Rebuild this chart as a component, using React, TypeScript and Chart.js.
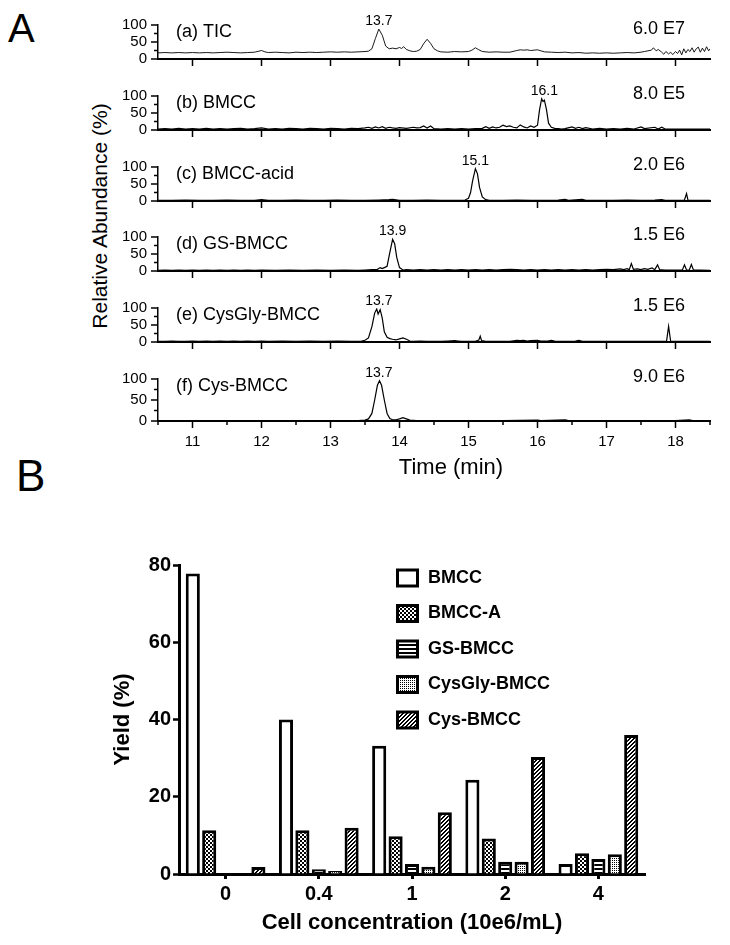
import React, { useEffect, useRef } from 'react';
import { Chart, registerables } from 'chart.js';

Chart.register(...registerables);

const FONT = "'Liberation Sans', Arial, Helvetica, sans-serif";
Chart.defaults.font.family = FONT;

// ---------- Panel A: chromatograms (time in min, relative abundance in %) ----------
const panelNames = ['(a) TIC', '(b) BMCC', '(c) BMCC-acid', '(d) GS-BMCC', '(e) CysGly-BMCC', '(f) Cys-BMCC'];
const panelScales = ['6.0 E7', '8.0 E5', '2.0 E6', '1.5 E6', '1.5 E6', '9.0 E6'];
const peakLabels = [13.7, 16.1, 15.1, 13.9, 13.7, 13.7];
const timeTicks = [11, 12, 13, 14, 15, 16, 17, 18];
const abundanceTicks = [0, 50, 100];

const ticTrace = [
  [10.5, 18], [10.6, 19], [10.7, 18], [10.8, 19], [10.9, 18], [11.0, 19], [11.1, 18], [11.2, 19], [11.3, 18], [11.4, 19],
  [11.5, 20], [11.6, 19], [11.7, 18], [11.8, 19], [11.9, 20], [12.0, 25], [12.05, 21], [12.1, 19], [12.2, 20], [12.3, 19],
  [12.4, 18], [12.5, 20], [12.6, 19], [12.7, 20], [12.8, 19], [12.9, 20], [13.0, 21], [13.1, 20], [13.2, 21], [13.3, 20],
  [13.4, 21], [13.5, 22], [13.55, 23], [13.6, 30], [13.65, 60], [13.7, 88], [13.75, 70], [13.8, 38], [13.85, 30], [13.9, 32],
  [13.95, 30], [14.0, 34], [14.03, 31], [14.06, 36], [14.1, 28], [14.15, 24], [14.2, 22], [14.25, 23], [14.3, 28], [14.35, 45],
  [14.4, 58], [14.45, 46], [14.5, 30], [14.55, 24], [14.6, 21], [14.7, 20], [14.8, 22], [14.9, 21], [15.0, 22], [15.05, 26],
  [15.1, 33], [15.15, 27], [15.2, 22], [15.3, 20], [15.4, 21], [15.5, 20], [15.6, 20], [15.7, 25], [15.75, 27], [15.8, 26],
  [15.85, 27], [15.9, 25], [15.95, 26], [16.0, 27], [16.05, 24], [16.1, 21], [16.2, 20], [16.3, 19], [16.4, 20], [16.5, 18],
  [16.6, 19], [16.7, 17], [16.8, 18], [16.9, 17], [17.0, 18], [17.1, 17], [17.2, 18], [17.3, 19], [17.4, 18], [17.5, 20],
  [17.55, 22], [17.6, 24], [17.65, 26], [17.68, 33], [17.72, 24], [17.75, 28], [17.8, 20], [17.83, 14], [17.86, 22], [17.9, 15],
  [17.93, 20], [17.96, 13], [18.0, 22], [18.03, 16], [18.06, 26], [18.09, 12], [18.12, 30], [18.15, 18], [18.18, 28], [18.21, 22],
  [18.24, 33], [18.27, 20], [18.3, 30], [18.33, 35], [18.36, 20], [18.39, 32], [18.42, 22], [18.45, 36], [18.48, 24], [18.5, 30],
];

const bmccTrace = [
  [10.5, 3], [10.6, 4], [10.7, 3], [10.8, 5], [10.9, 3], [11.0, 4], [11.1, 3], [11.2, 5], [11.3, 3], [11.4, 4],
  [11.5, 3], [11.6, 4], [11.7, 5], [11.8, 3], [11.9, 4], [12.0, 6], [12.1, 3], [12.2, 4], [12.3, 3], [12.4, 5],
  [12.5, 4], [12.6, 3], [12.7, 5], [12.8, 4], [12.9, 3], [13.0, 5], [13.1, 4], [13.2, 3], [13.3, 5], [13.4, 4],
  [13.5, 6], [13.55, 8], [13.6, 5], [13.65, 9], [13.7, 6], [13.75, 10], [13.8, 5], [13.85, 8], [13.9, 6], [13.95, 5],
  [14.0, 7], [14.1, 5], [14.2, 8], [14.25, 6], [14.3, 7], [14.35, 12], [14.4, 6], [14.45, 12], [14.5, 4], [14.6, 3],
  [14.7, 4], [14.8, 3], [14.9, 4], [15.0, 3], [15.1, 4], [15.2, 5], [15.25, 10], [15.3, 5], [15.35, 9], [15.4, 6],
  [15.45, 8], [15.5, 14], [15.55, 10], [15.6, 12], [15.65, 8], [15.7, 6], [15.75, 15], [15.8, 9], [15.85, 6], [15.9, 12],
  [15.95, 8], [16.0, 14], [16.03, 60], [16.06, 92], [16.08, 84], [16.1, 88], [16.13, 60], [16.16, 20], [16.2, 8], [16.25, 5],
  [16.3, 4], [16.35, 3], [16.4, 4], [16.5, 9], [16.55, 5], [16.6, 8], [16.65, 4], [16.7, 7], [16.8, 3], [16.9, 5],
  [17.0, 3], [17.1, 4], [17.2, 3], [17.3, 5], [17.4, 3], [17.5, 9], [17.55, 4], [17.7, 8], [17.75, 3], [17.8, 8],
  [17.85, 3], [17.9, 3], [18.0, 3], [18.1, 3], [18.2, 3], [18.3, 3], [18.4, 3], [18.5, 3],
];

const bmccAcidTrace = [
  [10.5, 2], [10.7, 2], [10.9, 3], [11.1, 2], [11.3, 2], [11.5, 3], [11.7, 2], [11.9, 2], [12.0, 4], [12.1, 2],
  [12.3, 2], [12.5, 3], [12.7, 2], [12.9, 2], [13.1, 3], [13.3, 2], [13.5, 2], [13.7, 3], [13.85, 4], [13.9, 5],
  [14.0, 2], [14.2, 2], [14.4, 3], [14.6, 2], [14.8, 2], [14.95, 3], [15.0, 8], [15.03, 25], [15.06, 60], [15.1, 95],
  [15.13, 80], [15.16, 40], [15.2, 12], [15.25, 4], [15.3, 2], [15.5, 2], [15.7, 3], [15.9, 2], [16.1, 2], [16.3, 3],
  [16.4, 5], [16.45, 2], [16.65, 5], [16.7, 2], [16.9, 2], [17.1, 2], [17.3, 3], [17.5, 2], [17.7, 3], [17.8, 4],
  [17.85, 2], [18.0, 2], [18.1, 2], [18.13, 3], [18.16, 22], [18.18, 3], [18.3, 2], [18.5, 2],
];

const gsBmccTrace = [
  [10.5, 2], [10.6, 3], [10.7, 2], [10.8, 3], [10.9, 2], [11.0, 3], [11.1, 2], [11.2, 3], [11.3, 2], [11.4, 3],
  [11.5, 2], [11.6, 3], [11.7, 2], [11.8, 3], [11.9, 2], [12.0, 3], [12.2, 2], [12.4, 3], [12.6, 2], [12.8, 3],
  [13.0, 2], [13.2, 3], [13.4, 2], [13.5, 3], [13.6, 4], [13.68, 5], [13.72, 10], [13.75, 7], [13.78, 10], [13.82, 14],
  [13.86, 55], [13.9, 93], [13.93, 80], [13.96, 40], [14.0, 10], [14.05, 3], [14.1, 4], [14.2, 3], [14.3, 4], [14.4, 3],
  [14.5, 4], [14.6, 3], [14.7, 4], [14.8, 3], [14.9, 4], [15.0, 3], [15.1, 4], [15.2, 3], [15.3, 4], [15.4, 3],
  [15.5, 4], [15.6, 5], [15.7, 4], [15.8, 3], [15.9, 4], [16.0, 3], [16.1, 4], [16.2, 3], [16.3, 4], [16.4, 3],
  [16.5, 4], [16.6, 3], [16.7, 4], [16.8, 3], [16.9, 4], [17.0, 5], [17.1, 4], [17.2, 6], [17.25, 4], [17.3, 7],
  [17.33, 4], [17.36, 22], [17.39, 5], [17.45, 6], [17.5, 4], [17.55, 7], [17.6, 5], [17.66, 9], [17.7, 4], [17.74, 18],
  [17.77, 4], [17.85, 3], [17.95, 3], [18.05, 3], [18.1, 3], [18.13, 18], [18.16, 3], [18.2, 3], [18.23, 19], [18.26, 3],
  [18.35, 3], [18.5, 2],
];

const cysGlyBmccTrace = [
  [10.5, 2], [10.6, 2], [10.7, 3], [10.8, 2], [10.9, 2], [11.0, 3], [11.1, 2], [11.2, 3], [11.3, 2], [11.4, 3],
  [11.5, 2], [11.6, 3], [11.7, 2], [11.8, 3], [11.9, 2], [12.0, 3], [12.1, 2], [12.3, 3], [12.5, 2], [12.7, 3],
  [12.9, 2], [13.1, 3], [13.3, 2], [13.45, 3], [13.5, 5], [13.55, 12], [13.6, 45], [13.64, 85], [13.67, 97], [13.69, 82],
  [13.72, 95], [13.75, 70], [13.78, 30], [13.82, 14], [13.86, 10], [13.9, 8], [13.95, 6], [14.0, 9], [14.05, 12], [14.1, 8],
  [14.15, 3], [14.2, 2], [14.3, 3], [14.4, 2], [14.5, 2], [14.6, 2], [14.7, 3], [14.8, 4], [14.85, 3], [14.9, 2],
  [15.0, 2], [15.1, 2], [15.15, 6], [15.17, 17], [15.19, 4], [15.25, 2], [15.4, 2], [15.6, 2], [15.7, 5], [15.75, 4],
  [15.8, 5], [15.85, 3], [15.9, 4], [16.0, 5], [16.05, 3], [16.15, 3], [16.2, 5], [16.25, 3], [16.4, 2], [16.55, 3],
  [16.6, 5], [16.65, 2], [16.8, 2], [17.0, 2], [17.2, 2], [17.4, 2], [17.6, 2], [17.8, 2], [17.87, 2], [17.9, 46],
  [17.93, 2], [18.0, 2], [18.2, 2], [18.4, 2], [18.5, 2],
];

const cysBmccTrace = [
  [10.5, 1], [10.8, 1], [11.1, 1], [11.4, 1], [11.7, 1], [12.0, 1], [12.3, 1], [12.6, 1], [12.9, 1], [13.2, 1],
  [13.4, 1], [13.5, 2], [13.55, 5], [13.6, 18], [13.64, 50], [13.68, 85], [13.71, 96], [13.74, 85], [13.78, 50], [13.82, 18],
  [13.86, 6], [13.9, 3], [13.95, 3], [14.0, 5], [14.05, 8], [14.1, 5], [14.15, 2], [14.25, 1], [14.5, 1], [15.0, 1],
  [15.5, 1], [16.0, 2], [16.05, 1], [16.4, 3], [16.45, 1], [17.0, 1], [17.5, 1], [18.0, 1], [18.2, 3], [18.25, 1],
  [18.5, 1],
];

const traces = [ticTrace, bmccTrace, bmccAcidTrace, gsBmccTrace, cysGlyBmccTrace, cysBmccTrace];

// ---------- Panel B: yields ----------
const cellConc = ['0', '0.4', '1', '2', '4'];
const seriesNames = ['BMCC', 'BMCC-A', 'GS-BMCC', 'CysGly-BMCC', 'Cys-BMCC'];
const yieldBmcc = [77.8, 40.0, 33.2, 24.4, 2.6];
const yieldBmccA = [11.3, 11.3, 9.8, 9.2, 5.4];
const yieldGsBmcc = [0, 1.2, 2.6, 3.2, 3.9];
const yieldCysGlyBmcc = [0, 0.8, 1.9, 3.2, 5.1];
const yieldCysBmcc = [1.8, 12.0, 16.0, 30.3, 36.0];
const yieldTicks = [0, 20, 40, 60, 80];

// ---------- layout constants ----------
const W = 730;
const PANEL_TOP0 = 25;
const PANEL_STEP = 70.8;
const PANEL_H = 42;
const PLOT_LEFT = 158;
const PLOT_RIGHT = 710;
const TOP_PAD = 25;
const BAR_TOP = 540;
const BAR_H = 405;

function panelTop(i: number) {
  return Math.round(PANEL_TOP0 + i * PANEL_STEP);
}
function canvasHeight(i: number) {
  return TOP_PAD + PANEL_H + (i === traces.length - 1 ? 80 : 12);
}

function chromConfig(i: number): any {
  const trace = traces[i];
  const isLast = i === traces.length - 1;
  const decor = {
    id: 'chromDecor' + i,
    afterDraw(chart: any) {
      const { ctx, chartArea: a, scales } = chart;
      const xs = scales.x;
      const ys = scales.y;
      ctx.save();
      ctx.strokeStyle = '#000';
      ctx.lineWidth = 1.5;
      ctx.beginPath();
      for (let v = 0; v <= 100; v += 25) {
        const py = ys.getPixelForValue(v);
        const len = v % 50 === 0 ? 7 : 4;
        ctx.moveTo(a.left - len, py);
        ctx.lineTo(a.left, py);
      }
      const step = isLast ? 0.5 : 1;
      for (let v = isLast ? 10.5 : 11; v <= 18.5 + 1e-6; v += step) {
        const px = xs.getPixelForValue(v);
        const len = Math.abs(v - Math.round(v)) < 1e-6 ? 7 : 4;
        ctx.moveTo(px, a.bottom);
        ctx.lineTo(px, a.bottom + len);
      }
      ctx.stroke();

      ctx.fillStyle = '#000';
      ctx.textAlign = 'left';
      ctx.textBaseline = 'middle';
      ctx.font = `18px ${FONT}`;
      ctx.fillText(panelNames[i], 176, a.top + 7.5);
      ctx.fillText(panelScales[i], 633, a.top + (i === 0 ? 4 : -2));

      const t = peakLabels[i];
      let m = 0;
      for (const [tx, ty] of trace) if (Math.abs(tx - t) <= 0.1 && ty > m) m = ty;
      ctx.font = `14px ${FONT}`;
      ctx.textAlign = 'center';
      ctx.textBaseline = 'alphabetic';
      ctx.fillText(t.toFixed(1), xs.getPixelForValue(t), ys.getPixelForValue(m) - 4);

      if (isLast) {
        ctx.font = `22px ${FONT}`;
        ctx.textBaseline = 'middle';
        ctx.fillText('Time (min)', 451, a.bottom + 47);
      }
      ctx.restore();
    },
  };

  return {
    type: 'line',
    data: {
      datasets: [
        {
          data: trace.map(([x, y]) => ({ x, y })),
          borderColor: '#000',
          borderWidth: i === 0 ? 0.9 : 1.2,
          pointRadius: 0,
          fill: false,
          tension: 0,
        },
      ],
    },
    options: {
      animation: false,
      responsive: false,
      events: [],
      layout: { padding: { left: 0, right: W - PLOT_RIGHT, top: TOP_PAD, bottom: 0 } },
      plugins: { legend: { display: false }, tooltip: { enabled: false } },
      scales: {
        x: {
          type: 'linear',
          min: 10.5,
          max: 18.5,
          afterBuildTicks: (s: any) => {
            s.ticks = timeTicks.map((v) => ({ value: v }));
          },
          afterFit: (s: any) => {
            s.height = isLast ? 80 : 12;
          },
          ticks: {
            display: isLast,
            color: '#000',
            font: { family: FONT, size: 15 },
            padding: 12,
            maxRotation: 0,
            autoSkip: false,
          },
          grid: { display: false, drawTicks: false },
          border: { display: true, color: '#000', width: 2 },
        },
        y: {
          min: 0,
          max: 100,
          afterBuildTicks: (s: any) => {
            s.ticks = abundanceTicks.map((v) => ({ value: v }));
          },
          afterFit: (s: any) => {
            s.width = PLOT_LEFT;
          },
          ticks: { color: '#000', font: { family: FONT, size: 15 }, padding: 11 },
          grid: { display: false, drawTicks: false },
          border: { display: true, color: '#000', width: 1.5 },
        },
      },
    },
    plugins: [decor],
  };
}

function makeFill(ctx: CanvasRenderingContext2D, kind: string): any {
  if (kind === 'white') return '#ffffff';
  const c = document.createElement('canvas');
  const p = c.getContext('2d')!;
  const px = (x: number, y: number) => p.fillRect(x, y, 1, 1);
  if (kind === 'checker') {
    c.width = 4; c.height = 4;
    p.fillStyle = '#fff'; p.fillRect(0, 0, 4, 4);
    p.fillStyle = '#000'; p.fillRect(0, 0, 2, 2); p.fillRect(2, 2, 2, 2);
  } else if (kind === 'hlines') {
    c.width = 4; c.height = 4;
    p.fillStyle = '#fff'; p.fillRect(0, 0, 4, 4);
    p.fillStyle = '#000'; p.fillRect(0, 0, 4, 2);
  } else if (kind === 'dots') {
    c.width = 2; c.height = 2;
    p.fillStyle = '#fff'; p.fillRect(0, 0, 2, 2);
    p.fillStyle = '#000'; px(0, 0);
  } else {
    c.width = 4; c.height = 4;
    p.fillStyle = '#fff'; p.fillRect(0, 0, 4, 4);
    p.fillStyle = '#000';
    for (let y = 0; y < 4; y++) { px((3 - y + 4) % 4, y); px((4 - y) % 4, y); }
  }
  return ctx.createPattern(c, 'repeat');
}

function barConfig(canvas: HTMLCanvasElement): any {
  const ctx = canvas.getContext('2d')!;
  const fills = ['white', 'checker', 'hlines', 'dots', 'diag'].map((k) => makeFill(ctx, k));
  const series = [yieldBmcc, yieldBmccA, yieldGsBmcc, yieldCysGlyBmcc, yieldCysBmcc];
  const datasets = series.map((d, k) => ({
    label: seriesNames[k],
    data: d,
    backgroundColor: fills[k],
    borderColor: '#000',
    borderWidth: 3,
    borderSkipped: 'start',
    categoryPercentage: 0.88,
    barPercentage: 0.86,
  }));

  const decor = {
    id: 'barDecor',
    afterDraw(chart: any) {
      const { ctx: c, chartArea: a } = chart;
      c.save();
      c.fillStyle = '#000';
      // legend
      c.font = `bold 18px ${FONT}`;
      c.textAlign = 'left';
      c.textBaseline = 'middle';
      seriesNames.forEach((name, k) => {
        const cy = 38 + k * 35.5;
        const bx = 396, by = cy - 9.5, bw = 23, bh = 19;
        c.fillStyle = '#000';
        c.fillRect(bx, by, bw, bh);
        c.fillStyle = fills[k];
        c.fillRect(bx + 3, by + 3, bw - 6, bh - 6);
        c.fillStyle = '#000';
        c.fillText(name, 428, cy);
      });
      // axis titles
      c.font = `bold 22px ${FONT}`;
      c.textAlign = 'center';
      c.fillText('Cell concentration (10e6/mL)', (a.left + a.right) / 2, 383);
      c.translate(123, (a.top + a.bottom) / 2);
      c.rotate(-Math.PI / 2);
      c.fillText('Yield (%)', 0, 0);
      c.restore();
    },
  };

  const tickFont = { family: FONT, size: 20, weight: 'bold' as const };
  return {
    type: 'bar',
    data: { labels: cellConc, datasets },
    options: {
      animation: false,
      responsive: false,
      events: [],
      layout: { padding: { left: 0, right: 85, top: 25, bottom: 0 } },
      plugins: { legend: { display: false }, tooltip: { enabled: false } },
      scales: {
        x: {
          afterFit: (s: any) => {
            s.height = 71;
          },
          ticks: { color: '#000', font: tickFont, padding: 3, maxRotation: 0 },
          grid: {
            display: true,
            offset: false,
            drawOnChartArea: false,
            drawTicks: true,
            tickLength: 5,
            tickWidth: 3,
            tickColor: '#000',
          },
          border: { display: true, color: '#000', width: 3 },
        },
        y: {
          min: 0,
          max: 80,
          afterBuildTicks: (s: any) => {
            s.ticks = yieldTicks.map((v) => ({ value: v }));
          },
          afterFit: (s: any) => {
            s.width = 179;
          },
          ticks: { color: '#000', font: tickFont, padding: 2 },
          grid: {
            display: true,
            drawOnChartArea: false,
            drawTicks: true,
            tickLength: 6,
            tickWidth: 2.5,
            tickColor: '#000',
          },
          border: { display: true, color: '#000', width: 3 },
        },
      },
    },
    plugins: [decor],
  };
}

export default function App() {
  const refs = useRef<(HTMLCanvasElement | null)[]>([]);
  const barRef = useRef<HTMLCanvasElement | null>(null);

  useEffect(() => {
    const charts: Chart[] = [];
    traces.forEach((_, i) => {
      const cv = refs.current[i];
      if (cv) charts.push(new Chart(cv, chromConfig(i)));
    });
    if (barRef.current) charts.push(new Chart(barRef.current, barConfig(barRef.current)));
    return () => charts.forEach((c) => c.destroy());
  }, []);

  return (
    <div
      style={{
        position: 'absolute',
        left: 0,
        top: 0,
        width: W,
        height: 945,
        background: '#fff',
        overflow: 'hidden',
        fontFamily: FONT,
        color: '#000',
      }}
    >
      <div style={{ position: 'absolute', left: 8, top: 8, fontSize: 40, lineHeight: '40px' }}>A</div>
      <div style={{ position: 'absolute', left: 16, top: 454, fontSize: 44, lineHeight: '44px' }}>B</div>
      <div
        style={{
          position: 'absolute',
          left: 99,
          top: 216,
          fontSize: 21,
          lineHeight: '21px',
          whiteSpace: 'nowrap',
          transform: 'translate(-50%, -50%) rotate(-90deg)',
        }}
      >
        Relative Abundance (%)
      </div>
      {traces.map((_, i) => (
        <canvas
          key={i}
          ref={(el) => {
            refs.current[i] = el;
          }}
          width={W}
          height={canvasHeight(i)}
          style={{
            position: 'absolute',
            left: 0,
            top: panelTop(i) - TOP_PAD,
            width: W,
            height: canvasHeight(i),
          }}
        />
      ))}
      <canvas
        ref={barRef}
        width={W}
        height={BAR_H}
        style={{ position: 'absolute', left: 0, top: BAR_TOP, width: W, height: BAR_H }}
      />
    </div>
  );
}
